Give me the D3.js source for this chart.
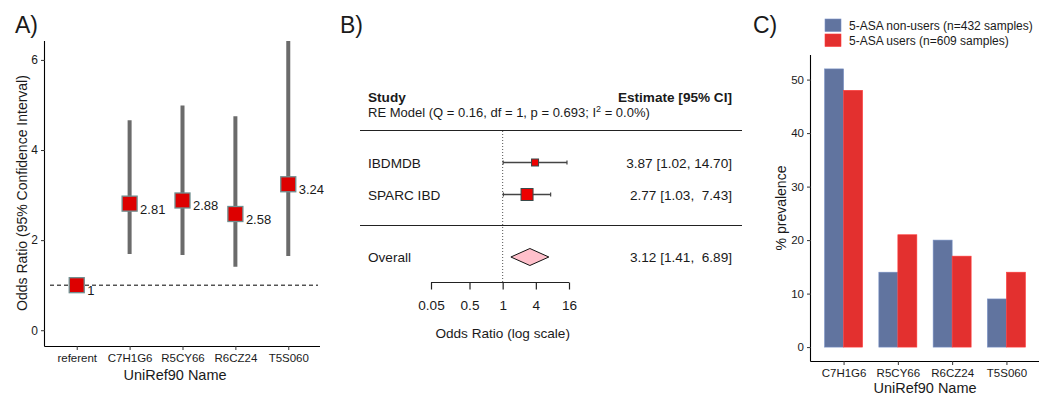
<!DOCTYPE html>
<html><head><meta charset="utf-8">
<script src="https://cdn.jsdelivr.net/npm/d3@7"></script>
<style>
body{margin:0;background:#fff}
svg{font-family:"Liberation Sans",Arial,Helvetica,sans-serif}
text{white-space:pre}
</style>
</head><body>
<svg id="chart" width="1050" height="406"></svg>
<script>
// ---------- Panel A data ----------
const aCategories = ["referent", "C7H1G6", "R5CY66", "R6CZ24", "T5S060"];
const aOddsRatio = [1, 2.81, 2.88, 2.58, 3.24];
const aLower = [1, 1.69, 1.67, 1.41, 1.65];
const aUpper = [1, 4.66, 4.99, 4.75, 6.42];
const aLabels = ["1", "2.81", "2.88", "2.58", "3.24"];
const aYTicks = [0, 2, 4, 6];

// ---------- Panel B data ----------
const bStudies = ["IBDMDB", "SPARC IBD"];
const bEstimate = [3.87, 2.77];
const bLower = [1.02, 1.03];
const bUpper = [14.70, 7.43];
const bWeight = [25.4, 74.6];
const bEstimateText = ["3.87 [1.02, 14.70]", "2.77 [1.03,  7.43]"];
const bOverall = [3.12, 1.41, 6.89];
const bOverallText = "3.12 [1.41,  6.89]";
const bTicks = [0.05, 0.25, 1, 4, 16];
const bTickLabels = ["0.05", "0.5", "1", "4", "16"];

// ---------- Panel C data ----------
const cCategories = ["C7H1G6", "R5CY66", "R6CZ24", "T5S060"];
const cNonUsers = [52, 14, 20, 9];
const cUsers = [48, 21, 17, 14];
const cSeries = ["5-ASA non-users (n=432 samples)", "5-ASA users (n=609 samples)"];
const cYTicks = [0, 10, 20, 30, 40, 50];

const svg = d3.select("#chart");
const txt = "#1a1a1a";

// =================== Panel A ===================
(function(){
  const x = d3.scalePoint().domain(aCategories).range([45, 320]).padding(0.6);
  const y = d3.scaleLinear().domain([-0.35, 6.42]).range([346, 41]);
  const g = svg.append("g");

  g.append("text").attr("x", 15).attr("y", 33).attr("font-size", 23).attr("fill", txt).text("A)");

  g.append("line").attr("x1", 50).attr("x2", 318).attr("y1", y(1)).attr("y2", y(1))
    .attr("stroke", "#000").attr("stroke-width", 1).attr("stroke-dasharray", "4,3");

  const rows = aCategories.map((c, i) => ({c, or: aOddsRatio[i], lo: aLower[i], hi: aUpper[i], lab: aLabels[i]}));
  g.selectAll("line.ci").data(rows.filter(d => d.hi > d.lo)).join("line")
    .attr("x1", d => x(d.c)).attr("x2", d => x(d.c))
    .attr("y1", d => Math.max(y(d.hi), 41)).attr("y2", d => y(d.lo))
    .attr("stroke", "#6b6b6b").attr("stroke-width", 4);

  const s = 15;
  g.selectAll("rect.pt").data(rows).join("rect")
    .attr("x", d => x(d.c) - s/2).attr("y", d => y(d.or) - s/2)
    .attr("width", s).attr("height", s)
    .attr("fill", "#dd0000").attr("stroke", "#6f8f90").attr("stroke-width", 1.3);

  g.selectAll("text.lab").data(rows).join("text")
    .attr("x", d => x(d.c) + 10.5).attr("y", d => y(d.or) + 10)
    .attr("font-size", 13).attr("fill", txt).text(d => d.lab);

  const yAxis = g.append("g").attr("transform", "translate(45,0)")
    .call(d3.axisLeft(y).tickValues(aYTicks).tickSize(4).tickPadding(3).tickFormat(d3.format("d")));
  yAxis.select(".domain").attr("d", `M-0.5,41V346.5`).attr("stroke", "#000").attr("stroke-width", 1.1);
  yAxis.selectAll(".tick line").attr("stroke", "#333");
  yAxis.selectAll(".tick text").attr("font-size", 12).attr("fill", txt).attr("font-family", "Liberation Sans, Arial");

  const xAxis = g.append("g").attr("transform", "translate(0,346)")
    .call(d3.axisBottom(x).tickSize(4).tickPadding(4));
  xAxis.select(".domain").attr("d", `M44.5,0.5H320`).attr("stroke", "#000").attr("stroke-width", 1.1);
  xAxis.selectAll(".tick line").attr("stroke", "#333");
  xAxis.selectAll(".tick text").attr("font-size", 11.5).attr("fill", txt).attr("font-family", "Liberation Sans, Arial");

  g.append("text").attr("x", 175).attr("y", 380).attr("text-anchor", "middle")
    .attr("font-size", 14.5).attr("fill", txt).text("UniRef90 Name");
  g.append("text").attr("transform", "translate(27,193) rotate(-90)").attr("text-anchor", "middle")
    .attr("font-size", 14).attr("fill", txt).text("Odds Ratio (95% Confidence Interval)");
})();

// =================== Panel B ===================
(function(){
  const x = d3.scaleLog().domain([0.05, 16]).range([431, 569]);
  const fs = 13.6;
  const g = svg.append("g").attr("font-size", fs).attr("fill", txt);
  g.append("text").attr("x", 340).attr("y", 33).attr("font-size", 23).text("B)");

  g.append("text").attr("x", 368).attr("y", 102).attr("font-weight", "bold").text("Study");
  g.append("text").attr("x", 732).attr("y", 102).attr("font-weight", "bold").attr("text-anchor", "end").text("Estimate [95% CI]");
  const re = g.append("text").attr("x", 368).attr("y", 116.5).attr("font-size", 13);
  re.append("tspan").text("RE Model (Q = 0.16, df = 1, p = 0.693; I");
  re.append("tspan").attr("dy", -5).attr("font-size", 9).text("2");
  re.append("tspan").attr("dy", 5).text(" = 0.0%)");

  g.append("line").attr("x1", 360).attr("x2", 742).attr("y1", 130.5).attr("y2", 130.5).attr("stroke", "#222").attr("stroke-width", 1.2);
  g.append("line").attr("x1", 360).attr("x2", 742).attr("y1", 225.5).attr("y2", 225.5).attr("stroke", "#222").attr("stroke-width", 1.2);

  g.append("line").attr("x1", x(1)).attr("x2", x(1)).attr("y1", 131).attr("y2", 282)
    .attr("stroke", "#555").attr("stroke-width", 1).attr("stroke-dasharray", "1,2");

  const rowY = [162.5, 194.5];
  const size = d3.scaleSqrt().domain([0, d3.max(bWeight)]).range([0, 12]);
  const rows = bStudies.map((s, i) => ({s, est: bEstimate[i], lo: bLower[i], hi: bUpper[i], w: bWeight[i], t: bEstimateText[i], y: rowY[i]}));

  const r = g.selectAll("g.row").data(rows).join("g");
  r.append("text").attr("x", 368).attr("y", d => d.y + 5).text(d => d.s);
  r.append("text").attr("x", 732).attr("y", d => d.y + 5).attr("text-anchor", "end").text(d => d.t);
  r.append("line").attr("x1", d => x(d.lo)).attr("x2", d => x(d.hi)).attr("y1", d => d.y).attr("y2", d => d.y)
    .attr("stroke", "#444").attr("stroke-width", 1.3);
  r.append("line").attr("x1", d => x(d.lo)).attr("x2", d => x(d.lo)).attr("y1", d => d.y - 2).attr("y2", d => d.y + 2)
    .attr("stroke", "#444").attr("stroke-width", 1.2);
  r.append("line").attr("x1", d => x(d.hi)).attr("x2", d => x(d.hi)).attr("y1", d => d.y - 2).attr("y2", d => d.y + 2)
    .attr("stroke", "#444").attr("stroke-width", 1.2);
  r.append("rect").attr("x", d => x(d.est) - size(d.w)/2).attr("y", d => d.y - size(d.w)/2)
    .attr("width", d => size(d.w)).attr("height", d => size(d.w))
    .attr("fill", "#ee0000").attr("stroke", "#3a4a4a").attr("stroke-width", 1);

  const oy = 257;
  g.append("text").attr("x", 368).attr("y", oy + 5).text("Overall");
  g.append("text").attr("x", 732).attr("y", oy + 5).attr("text-anchor", "end").text(bOverallText);
  g.append("path")
    .attr("d", `M${x(bOverall[1])},${oy}L${x(bOverall[0])},${oy-8.5}L${x(bOverall[2])},${oy}L${x(bOverall[0])},${oy+8.5}Z`)
    .attr("fill", "#ffc0cb").attr("stroke", "#111").attr("stroke-width", 1);

  const ax = g.append("g").attr("transform", "translate(0,282.5)")
    .call(d3.axisBottom(x).tickValues(bTicks).tickSize(7).tickPadding(11)
      .tickFormat((d, i) => bTickLabels[i]));
  ax.select(".domain").attr("d", `M${x(0.05)},0H${x(16)}`).attr("stroke", "#222").attr("stroke-width", 1.2);
  ax.selectAll(".tick line").attr("stroke", "#222").attr("stroke-width", 1.2);
  ax.selectAll(".tick text").attr("font-size", fs).attr("fill", txt).attr("font-family", "Liberation Sans, Arial");

  g.append("text").attr("x", x(1)).attr("y", 337.5).attr("text-anchor", "middle").text("Odds Ratio (log scale)");
})();

// =================== Panel C ===================
(function(){
  const x = d3.scalePoint().domain(cCategories).range([811, 1039]).padding(0.6);
  const step = x.step();
  const bw = step * 0.35;
  const y = d3.scaleLinear().domain([-2.6, 54.6]).range([361, 55]);
  const colors = ["#61749f", "#e3302f"];
  const g = svg.append("g").attr("fill", txt);

  g.append("text").attr("x", 753).attr("y", 33).attr("font-size", 23).text("C)");

  const series = [cNonUsers, cUsers];
  series.forEach((vals, si) => {
    g.selectAll(null).data(cCategories.map((c, i) => ({c, v: vals[i]}))).join("rect")
      .attr("x", d => x(d.c) - bw + si * bw).attr("width", bw)
      .attr("y", d => y(d.v)).attr("height", d => y(0) - y(d.v))
      .attr("fill", colors[si]).attr("stroke", d3.color(colors[si]).brighter(0.6)).attr("stroke-width", 0.6);
  });

  const yAxis = g.append("g").attr("transform", "translate(811,0)")
    .call(d3.axisLeft(y).tickValues(cYTicks).tickSize(4).tickPadding(3));
  yAxis.select(".domain").attr("d", `M-0.5,55V361.5`).attr("stroke", "#000").attr("stroke-width", 1.1);
  yAxis.selectAll(".tick line").attr("stroke", "#333");
  yAxis.selectAll(".tick text").attr("font-size", 11.5).attr("fill", txt).attr("font-family", "Liberation Sans, Arial");

  const xAxis = g.append("g").attr("transform", "translate(0,361)")
    .call(d3.axisBottom(x).tickSize(4).tickPadding(4));
  xAxis.select(".domain").attr("d", `M810.5,0.5H1039`).attr("stroke", "#000").attr("stroke-width", 1.1);
  xAxis.selectAll(".tick line").attr("stroke", "#333");
  xAxis.selectAll(".tick text").attr("font-size", 11.5).attr("fill", txt).attr("font-family", "Liberation Sans, Arial");

  g.append("text").attr("x", 925).attr("y", 393).attr("text-anchor", "middle")
    .attr("font-size", 14.5).text("UniRef90 Name");
  g.append("text").attr("transform", "translate(786,208) rotate(-90)").attr("text-anchor", "middle")
    .attr("font-size", 14).text("% prevalence");

  const lg = g.append("g");
  cSeries.forEach((s, i) => {
    lg.append("rect").attr("x", 825).attr("y", 19 + i * 15).attr("width", 16).attr("height", 12.5)
      .attr("fill", colors[i]).attr("stroke", d3.color(colors[i]).brighter(0.6)).attr("stroke-width", 0.6);
    lg.append("text").attr("x", 849).attr("y", 29.5 + i * 15).attr("font-size", 12).text(s);
  });
})();
</script>
</body></html>
